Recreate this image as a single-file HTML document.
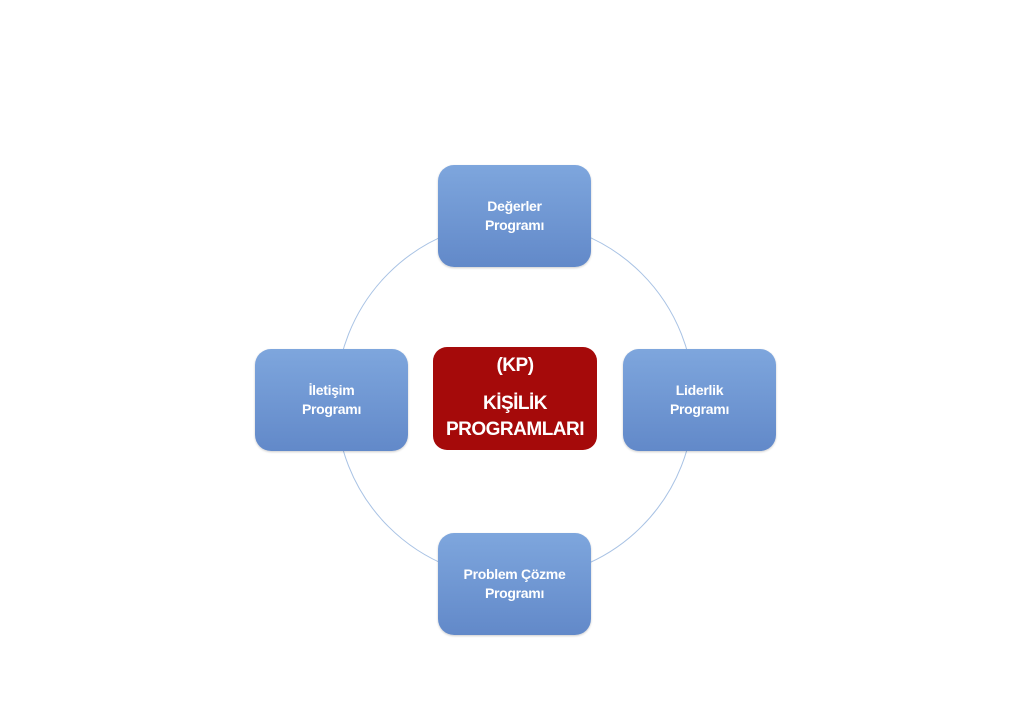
<!DOCTYPE html>
<html><head><style>
body{margin:0;width:1024px;height:724px;background:#fff;position:relative;overflow:hidden;font-family:"Liberation Sans",sans-serif}
.b{position:absolute;width:153px;height:102px;border-radius:16px;background:linear-gradient(#7ea6dd,#6289c9);box-shadow:0 1px 2px rgba(0,0,0,.2);color:#fff;font-weight:bold;font-size:14px;line-height:19px;display:flex;align-items:center;justify-content:center;text-align:center;letter-spacing:-0.3px}
.c{position:absolute;left:433px;top:347px;width:164px;height:103px;border-radius:14px;background:#a50a0a;color:#fff;font-weight:bold;font-size:19px;line-height:26px;text-align:center;letter-spacing:-0.5px}
</style></head><body>
<svg width="1024" height="724" style="position:absolute;left:0;top:0"><circle cx="515" cy="400" r="179" fill="none" stroke="#a8c2e4" stroke-width="1"/></svg>
<div class="b" style="left:438px;top:165px">Değerler<br>Programı</div>
<div class="b" style="left:255px;top:349px">İletişim<br>Programı</div>
<div class="b" style="left:623px;top:349px">Liderlik<br>Programı</div>
<div class="b" style="left:438px;top:533px">Problem Çözme<br>Programı</div>
<div class="c"><div style="margin-top:6px">(KP)</div><div style="margin-top:12px">KİŞİLİK<br>PROGRAMLARI</div></div>
</body></html>
